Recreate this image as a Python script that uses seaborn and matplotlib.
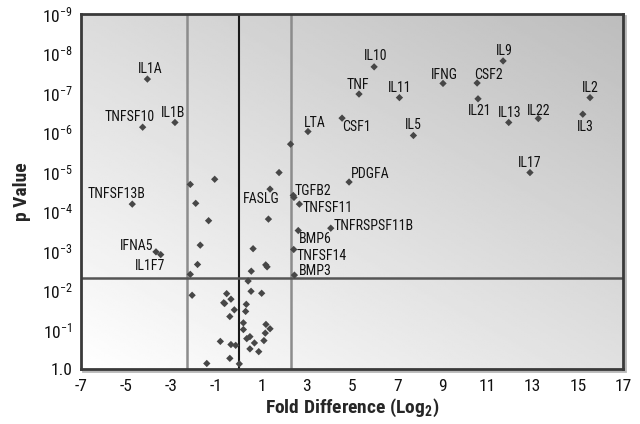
import numpy as np
import pandas as pd
import matplotlib
matplotlib.use("Agg")
import matplotlib.pyplot as plt
from matplotlib import font_manager
from matplotlib.patches import Rectangle
import seaborn as sns

# ---------------- data ----------------
labeled_genes = ["IL1A", "TNFSF10", "IL1B", "TNFSF13B", "IFNA5", "IL1F7", "FASLG",
                 "TGFB2", "TNFSF11", "BMP6", "TNFSF14", "BMP3", "TNFRSPSF11B",
                 "PDGFA", "LTA", "CSF1", "TNF", "IL10", "IL11", "IL5", "IFNG",
                 "CSF2", "IL9", "IL21", "IL13", "IL22", "IL2", "IL3", "IL17"]
labeled_fold = [-4.06, -4.27, -2.84, -4.73, -3.68, -3.47, 1.37,
                2.43, 2.67, 2.62, 2.42, 2.45, 4.06,
                4.87, 3.05, 4.56, 5.31, 5.98, 7.10, 7.72, 9.03,
                10.54, 11.69, 10.58, 11.94, 13.25, 15.54, 15.22, 12.88]
labeled_neglogp = [7.35, 6.13, 6.25, 4.18, 2.97, 2.90, 4.56,
                   4.35, 4.18, 3.51, 3.03, 2.38, 3.57,
                   4.74, 6.02, 6.36, 6.97, 7.66, 6.88, 5.92, 7.24,
                   7.25, 7.81, 6.85, 6.25, 6.35, 6.88, 6.46, 4.98]

other_fold = [2.28, 1.77, -2.16, -1.08, -1.92, -1.35, 1.30, -1.72, 0.62, -1.84,
              1.18, 1.24, 0.54, -2.16, 2.40,
              0.40, -2.08, -0.55, 0.53, 1.00, -0.36, -0.68, -0.64, 0.32, -0.21,
              0.29, -0.41, 0.19, 1.19, 0.19, 1.37, 1.16, 0.48, 0.34, 0.68,
              1.10, -0.83, -0.36, -0.15, 0.48, 0.87, -0.41, -1.43, 0.01]
other_neglogp = [5.70, 4.98, 4.68, 4.81, 4.20, 3.76, 3.80, 3.14, 3.05, 2.65,
                 2.64, 2.59, 2.48, 2.40, 4.40,
                 2.23, 1.87, 1.91, 1.97, 1.92, 1.77, 1.68, 1.66, 1.64, 1.50,
                 1.46, 1.33, 1.17, 1.13, 1.00, 1.02, 0.91, 0.82, 0.77, 0.66,
                 0.72, 0.70, 0.62, 0.60, 0.51, 0.44, 0.27, 0.14, 0.13]

x_ticks = [-7, -5, -3, -1, 1, 3, 5, 7, 9, 11, 13, 15, 17]
y_ticks = [0, 1, 2, 3, 4, 5, 6, 7, 8, 9]
y_tick_labels = ["1.0", "$10^{-1}$", "$10^{-2}$", "$10^{-3}$", "$10^{-4}$",
                 "$10^{-5}$", "$10^{-6}$", "$10^{-7}$", "$10^{-8}$", "$10^{-9}$"]

fold_threshold = [-2.32, 2.32]
p_threshold_neglog = 2.30

# label offsets in points (layout)
label_offsets = {
    "IL1A": (2, 7), "TNFSF10": (-9, 7), "IL1B": (-1.5, 7), "TNFSF13B": (-11, 7),
    "IFNA5": (-14, 4), "IL1F7": (-7.5, -8), "FASLG": (-6, -7), "TGFB2": (13.5, 4.5),
    "TNFSF11": (20, -3), "BMP6": (12.5, -6), "TNFSF14": (20, -4.5), "BMP3": (15, 3),
    "TNFRSPSF11B": (31, 1.5), "PDGFA": (15.5, 6), "LTA": (5, 6), "CSF1": (10.5, -6.5),
    "TNF": (-0.5, 6.5), "IL10": (1, 7.5), "IL11": (0, 7), "IL5": (0, 7.5),
    "IFNG": (1, 6), "CSF2": (8, 5.5), "IL9": (1, 7), "IL21": (1, -8.5),
    "IL13": (0.5, 6.5), "IL22": (0, 5.5), "IL2": (0, 7), "IL3": (1.5, -9),
    "IL17": (0, 7),
}

# ---------------- font choice: prefer a condensed face ----------------
sns.set_style("white")
names = {(f.name, str(f.stretch)) for f in font_manager.fontManager.ttflist}
fam_names = {n for n, _ in names}
stretch = "normal"
if "Liberation Sans Narrow" in fam_names:
    family, scale = "Liberation Sans Narrow", 1.0
elif "Roboto Condensed" in fam_names:
    family, scale = "Roboto Condensed", 1.0
elif any(n == "DejaVu Sans" and s in ("condensed", "semi-condensed", "600", "700")
         for n, s in names):
    family, scale, stretch = "DejaVu Sans", 0.85, "condensed"
else:
    family, scale = "Liberation Sans", 0.85

plt.rcParams["font.family"] = [family, "DejaVu Sans"]
plt.rcParams["font.stretch"] = stretch
plt.rcParams["mathtext.default"] = "regular"

fig = plt.figure(figsize=(6.4, 4.24), dpi=100)
ax_rect = [81 / 640, 1 - 369 / 424, (623 - 81) / 640, (369 - 14) / 424]

# soft drop shadow of the frame (right / bottom)
fig.patches.append(Rectangle((ax_rect[0] + 2 / 640, ax_rect[1] - 2 / 424),
                             ax_rect[2], ax_rect[3], transform=fig.transFigure,
                             facecolor="none", edgecolor="#b8b8b8", lw=2,
                             zorder=0))

ax = fig.add_axes(ax_rect)
ax.set_zorder(1)

# gradient background
u = np.linspace(0, 1, 200)[None, :]
v = np.linspace(0, 1, 200)[:, None]
grad = 1.0 - 0.12 * u - 0.14 * v
ax.imshow(grad, extent=[0, 1, 0, 1], transform=ax.transAxes, origin="lower",
          cmap="gray", vmin=0, vmax=1, aspect="auto", zorder=0)

df = pd.DataFrame({
    "fold": labeled_fold + other_fold,
    "neglogp": labeled_neglogp + other_neglogp,
})
sns.scatterplot(data=df, x="fold", y="neglogp", ax=ax, marker="D", s=14,
                color="#474747", edgecolor="none", linewidth=0, zorder=5)

# threshold lines
for xv in fold_threshold:
    ax.axvline(xv, color="#8c8c8c", lw=1.8, zorder=2)
ax.axvline(0, color="#1a1a1a", lw=1.5, zorder=3)
ax.axhline(p_threshold_neglog, color="#555555", lw=1.8, zorder=3)

# labels
for g, xv, yv in zip(labeled_genes, labeled_fold, labeled_neglogp):
    dx, dy = label_offsets[g]
    ax.annotate(g, (xv, yv), xytext=(dx, dy), textcoords="offset points",
                ha="center", va="center", fontsize=10 * scale, color="#111111",
                zorder=6)

ax.set_xlim(-7, 17)
ax.set_ylim(0, 9)
ax.set_xticks(x_ticks)
ax.set_xticklabels([str(t) for t in x_ticks])
ax.set_yticks(y_ticks)
ax.set_yticklabels(y_tick_labels)
ax.tick_params(axis="both", which="major", direction="out", length=4, width=1,
               color="#c0c0c0", labelsize=12.5 * scale, labelcolor="#111111", pad=2)
ax.tick_params(axis="x", pad=3)

for sp in ax.spines.values():
    sp.set_color("#3a3a3a")
    sp.set_linewidth(2)
    sp.set_zorder(7)

ax.set_xlabel("Fold Difference (Log$_2$)", fontsize=14 * scale, fontweight="bold",
              labelpad=2)
ax.set_ylabel("p Value", fontsize=14 * scale, fontweight="bold", labelpad=8)

fig.savefig("out.png", dpi=100)
